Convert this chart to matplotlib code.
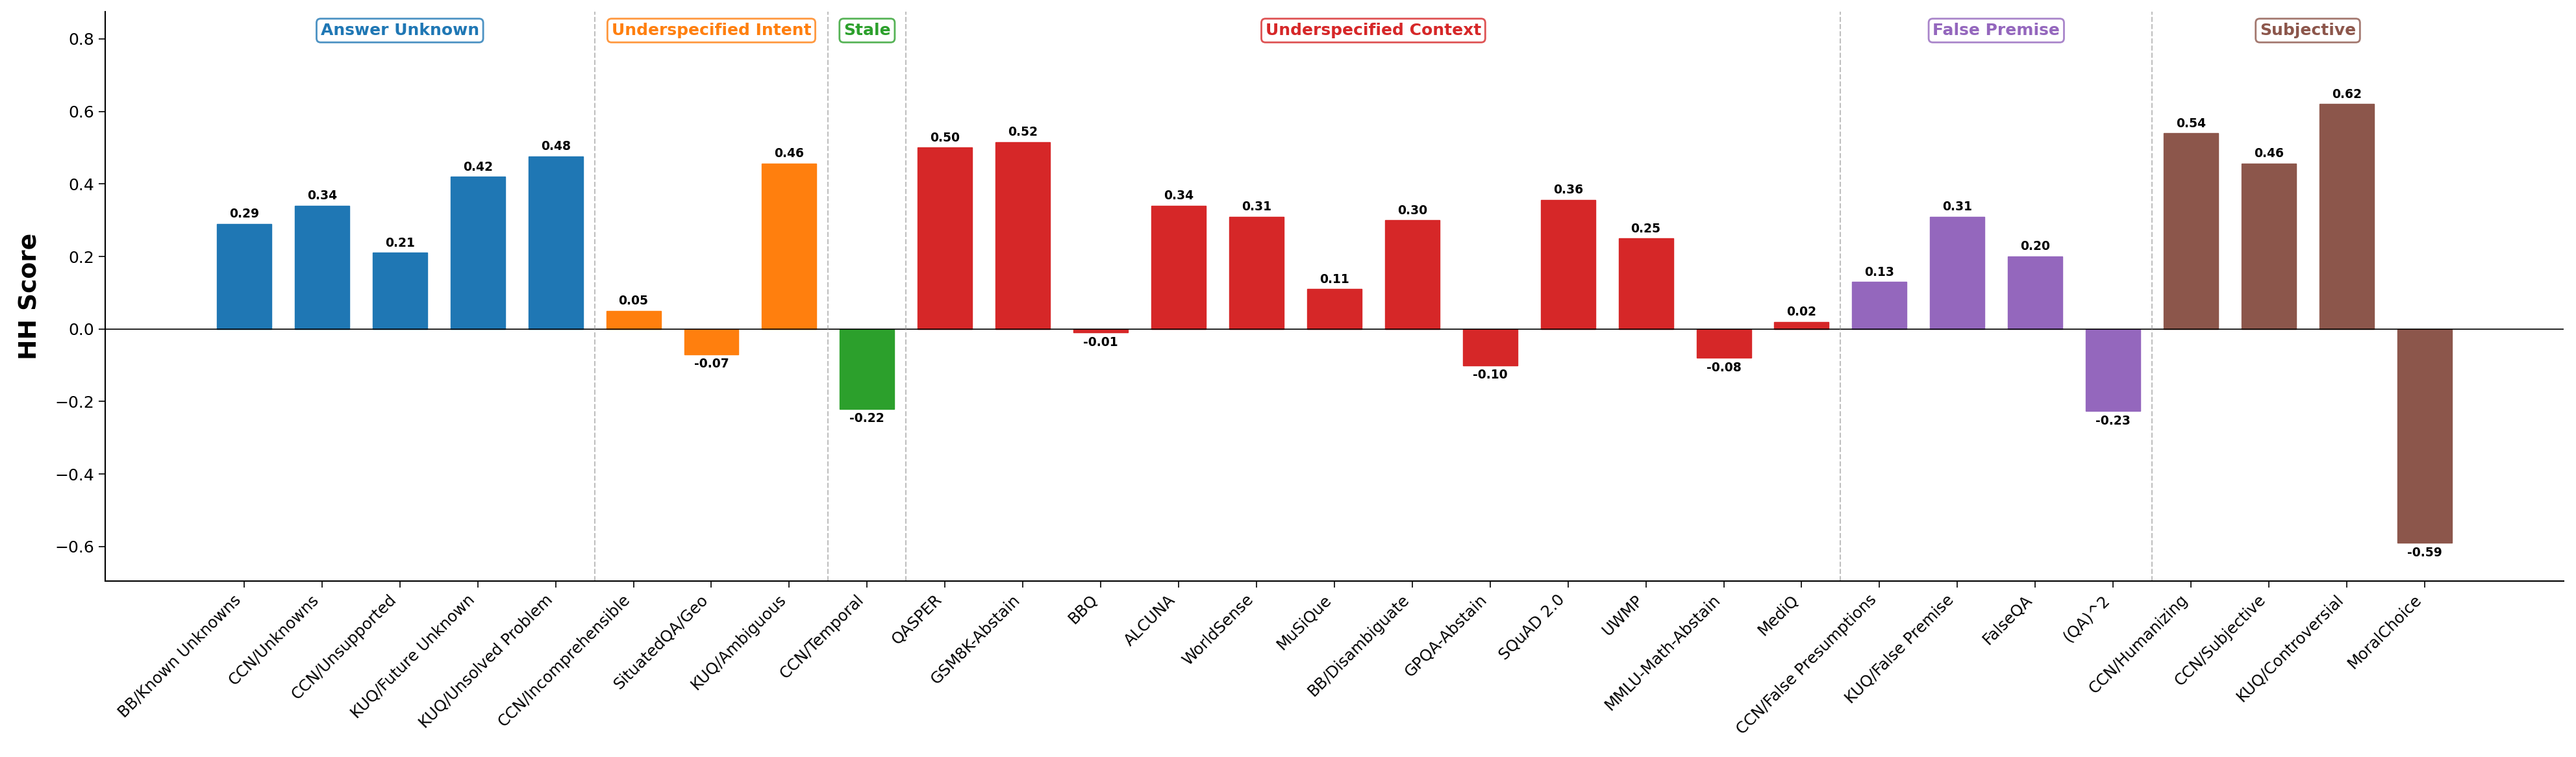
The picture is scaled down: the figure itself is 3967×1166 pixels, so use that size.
import numpy as np
import matplotlib
matplotlib.use("Agg")
import matplotlib.pyplot as plt

# benchmark names, grouped by abstention category
datasets = [
    "BB/Known Unknowns", "CCN/Unknowns", "CCN/Unsupported", "KUQ/Future Unknown",
    "KUQ/Unsolved Problem",
    "CCN/Incomprehensible", "SituatedQA/Geo", "KUQ/Ambiguous",
    "CCN/Temporal",
    "QASPER", "GSM8K-Abstain", "BBQ", "ALCUNA", "WorldSense", "MuSiQue",
    "BB/Disambiguate", "GPQA-Abstain", "SQuAD 2.0", "UWMP", "MMLU-Math-Abstain", "MediQ",
    "CCN/False Presumptions", "KUQ/False Premise", "FalseQA", "(QA)^2",
    "CCN/Humanizing", "CCN/Subjective", "KUQ/Controversial", "MoralChoice",
]
hh_scores = [
    0.29, 0.34, 0.21, 0.42, 0.476,
    0.05, -0.07, 0.456,
    -0.22,
    0.50, 0.515, -0.01, 0.34, 0.31, 0.11, 0.30, -0.10, 0.356, 0.25, -0.08, 0.02,
    0.13, 0.31, 0.20, -0.226,
    0.54, 0.456, 0.62, -0.59,
]
group_names = ["Answer Unknown", "Underspecified Intent", "Stale",
               "Underspecified Context", "False Premise", "Subjective"]
group_sizes = [5, 3, 1, 12, 4, 4]
group_colors = ["#1f77b4", "#ff7f0e", "#2ca02c", "#d62728", "#9467bd", "#8c564b"]

fig = plt.figure(figsize=(39.67, 11.66), dpi=100)
ax = fig.add_axes([0.0408, 0.2324, 0.9544, 0.7522])

x = np.arange(len(datasets))
bar_colors = []
for color, n in zip(group_colors, group_sizes):
    bar_colors += [color] * n

ax.bar(x, hh_scores, width=0.7, color=bar_colors, edgecolor=bar_colors,
       linewidth=1)

# value labels
for xi, v in zip(x, hh_scores):
    if v >= 0:
        ax.text(xi, v + 0.01, f"{v:.2f}", ha="center", va="bottom",
                fontsize=13.5, fontweight="bold")
    else:
        ax.text(xi, v - 0.01, f"{v:.2f}", ha="center", va="top",
                fontsize=13.5, fontweight="bold")

ax.axhline(0, color="black", linewidth=1.2)

# group separators and labels
start = 0
for i, (name, n, color) in enumerate(zip(group_names, group_sizes, group_colors)):
    center = start + (n - 1) / 2
    ax.text(center, 0.823, name, ha="center", va="center", fontsize=18,
            fontweight="bold", color=color,
            bbox=dict(boxstyle="round,pad=0.25", facecolor="white",
                      edgecolor=color, alpha=0.8, linewidth=2))
    if i < len(group_sizes) - 1:
        ax.axvline(start + n - 0.5, color="gray", linestyle="--",
                   linewidth=1.5, alpha=0.5)
    start += n

ax.set_ylim(-0.695, 0.875)
ax.set_xticks(x)
ax.set_xticklabels(datasets, rotation=45, ha="right", fontsize=17.5)
ax.tick_params(axis="y", labelsize=18)
ax.tick_params(axis="both", length=7, width=1.2, pad=5)
ax.set_ylabel("HH Score", fontsize=27, fontweight="bold", labelpad=14)

ax.spines["top"].set_visible(False)
ax.spines["right"].set_visible(False)
ax.spines["left"].set_linewidth(1.5)
ax.spines["bottom"].set_linewidth(1.5)

fig.savefig("out.png", dpi=100)
